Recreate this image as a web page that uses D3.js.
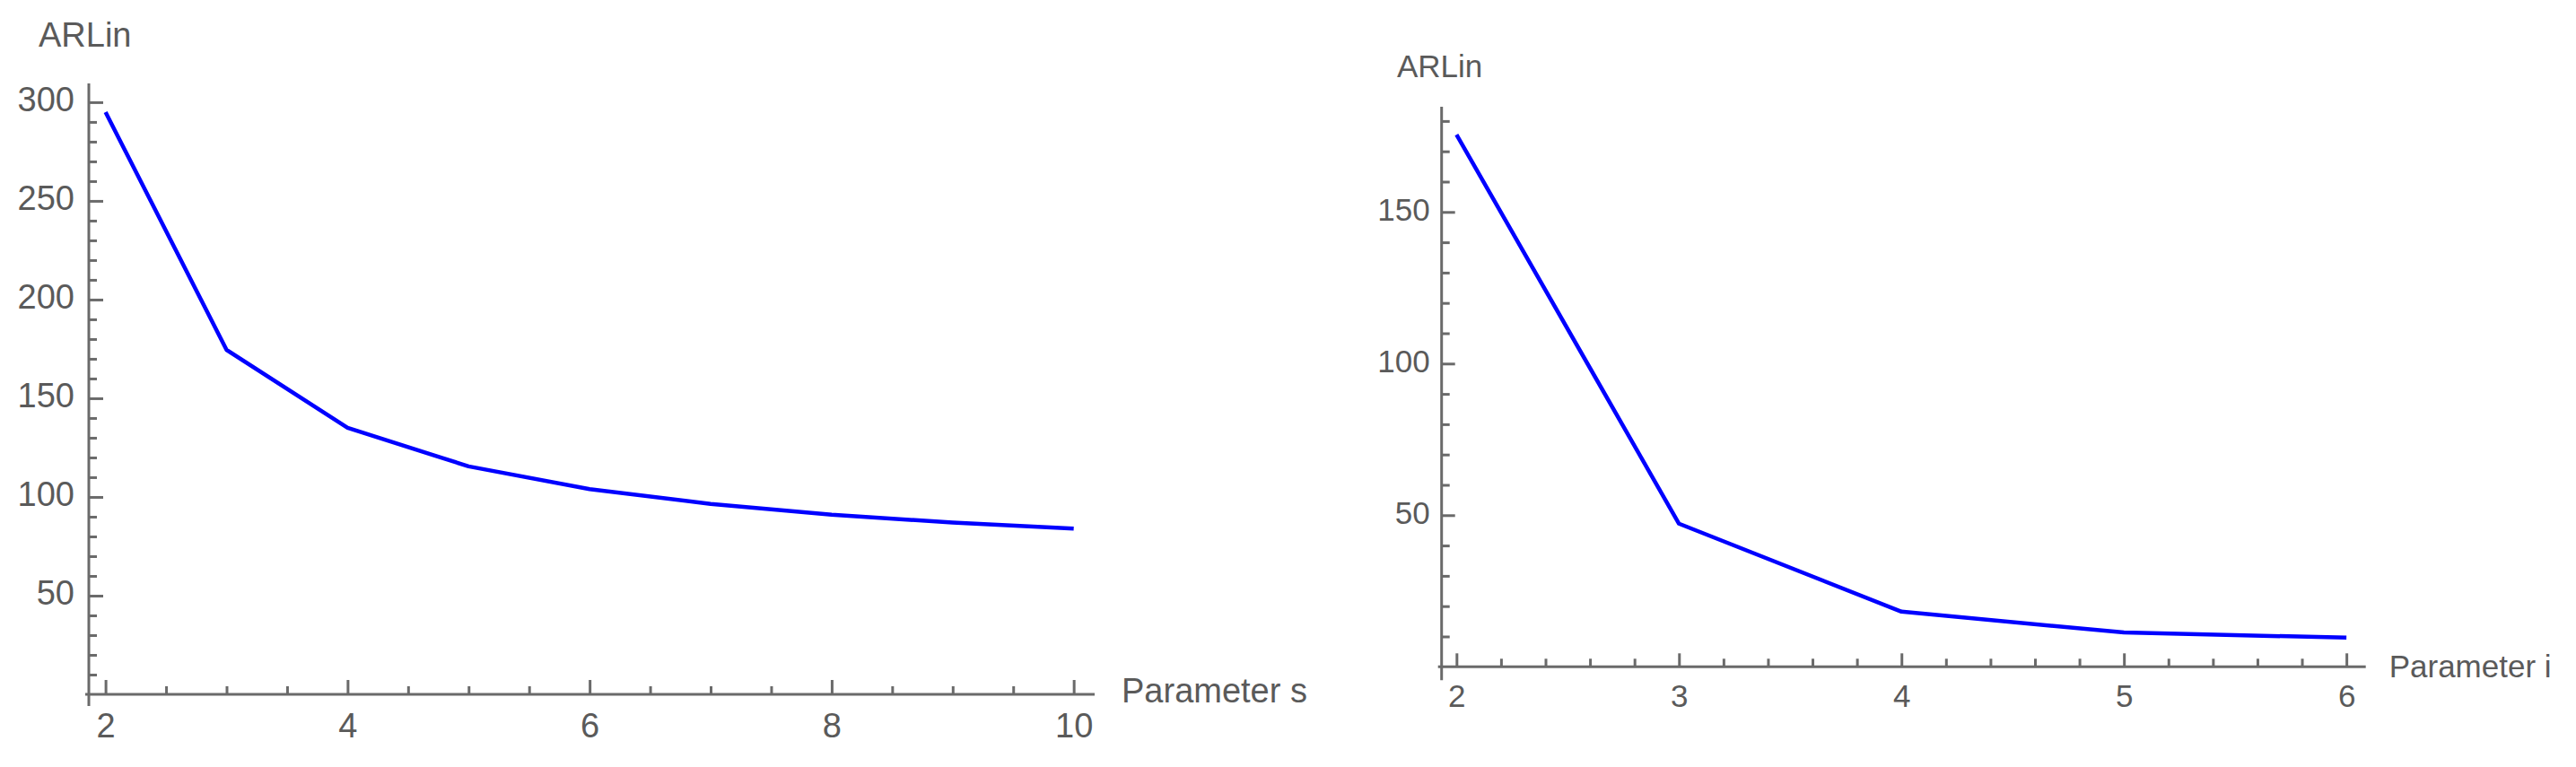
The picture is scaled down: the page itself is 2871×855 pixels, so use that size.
<!DOCTYPE html>
<html>
<head>
<meta charset="utf-8">
<script src="https://cdn.jsdelivr.net/npm/d3@7"></script>
<style>
  html, body { margin: 0; padding: 0; background: #ffffff; }
  svg { display: block; }
  text { font-family: "Liberation Sans", Arial, sans-serif; fill: #5a5a5a; }
</style>
</head>
<body>
<svg id="chart" width="2871" height="855"></svg>
<script>
// ---------- data ----------
const leftX = [2, 3, 4, 5, 6, 7, 8, 9, 10];
const leftY = [295, 174.5, 135, 115.5, 104, 96.5, 91, 87, 84];
const leftXTicks = [2, 4, 6, 8, 10];
const leftYTicks = [50, 100, 150, 200, 250, 300];
const leftXLabel = "Parameter s";
const leftYLabel = "ARLin";

const rightX = [2, 3, 4, 5, 6];
const rightY = [175.5, 47.2, 18.2, 11.3, 9.6];
const rightXTicks = [2, 3, 4, 5, 6];
const rightYTicks = [50, 100, 150];
const rightXLabel = "Parameter i";
const rightYLabel = "ARLin";

const svg = d3.select("#chart");
const AXIS = "#6a6a6a";
const TXT = "#5a5a5a";

function panel(cfg) {
  const g = svg.append("g");
  const x = d3.scaleLinear().domain(cfg.xDomain).range(cfg.xRange);
  const y = d3.scaleLinear().domain(cfg.yDomain).range(cfg.yRange);

  // minor x ticks
  g.append("g").attr("transform", `translate(0,${y(0)})`)
    .call(d3.axisBottom(x).tickValues(cfg.xMinor).tickSize(-cfg.minorLen).tickFormat(""))
    .call(s => { s.select(".domain").remove(); s.selectAll("line").attr("stroke", AXIS).attr("stroke-width", 3); });
  // major x ticks
  g.append("g").attr("transform", `translate(0,${y(0)})`)
    .call(d3.axisBottom(x).tickValues(cfg.xTicks).tickSize(-cfg.majorLen).tickPadding(cfg.xPad).tickFormat(d3.format("d")))
    .call(s => {
      s.select(".domain").remove();
      s.selectAll("line").attr("stroke", AXIS).attr("stroke-width", 3);
      s.selectAll("text").attr("font-size", cfg.fs).attr("font-family", null).attr("fill", TXT);
    });
  // minor y ticks
  g.append("g").attr("transform", `translate(${x.range()[0]},0)`)
    .call(d3.axisLeft(y).tickValues(cfg.yMinor).tickSize(-cfg.minorLen).tickFormat(""))
    .call(s => { s.select(".domain").remove(); s.selectAll("line").attr("stroke", AXIS).attr("stroke-width", 3); });
  // major y ticks
  g.append("g").attr("transform", `translate(${x.range()[0]},0)`)
    .call(d3.axisLeft(y).tickValues(cfg.yTicks).tickSize(-cfg.majorLen).tickPadding(cfg.yPad).tickFormat(d3.format("d")))
    .call(s => {
      s.select(".domain").remove();
      s.selectAll("line").attr("stroke", AXIS).attr("stroke-width", 3);
      s.selectAll("text").attr("font-size", cfg.fs).attr("font-family", null).attr("fill", TXT).attr("dy", "0.26em");
    });

  // axis lines (with slight overshoot at the origin like Mathematica)
  g.append("line")
    .attr("x1", x.range()[0] - 4).attr("x2", x.range()[1])
    .attr("y1", y(0)).attr("y2", y(0))
    .attr("stroke", AXIS).attr("stroke-width", 3);
  g.append("line")
    .attr("x1", x.range()[0]).attr("x2", x.range()[0])
    .attr("y1", y.range()[1]).attr("y2", y(0) + cfg.yOver)
    .attr("stroke", AXIS).attr("stroke-width", 3);

  // data line
  const line = d3.line().x(d => x(d[0])).y(d => y(d[1]));
  g.append("path")
    .datum(cfg.xs.map((v, i) => [v, cfg.ys[i]]))
    .attr("d", line)
    .attr("fill", "none")
    .attr("stroke", "#0000ff")
    .attr("stroke-width", 4.5)
    .attr("stroke-linejoin", "round");

  // axis labels
  g.append("text").text(cfg.yLabel)
    .attr("x", cfg.yLabelPos[0]).attr("y", cfg.yLabelPos[1])
    .attr("font-size", cfg.fs);
  g.append("text").text(cfg.xLabel)
    .attr("x", x.range()[1] + cfg.xLabelDx).attr("y", y(0) + cfg.xLabelDy)
    .attr("font-size", cfg.fs);
}

panel({
  xs: leftX, ys: leftY,
  xDomain: [1.862, 10.173], xRange: [99, 1220],
  yDomain: [0, 309.5], yRange: [774, 93],
  xTicks: leftXTicks, yTicks: leftYTicks,
  xMinor: d3.range(2, 10.01, 0.5).filter(v => !leftXTicks.includes(v)),
  yMinor: d3.range(10, 310, 10).filter(v => !leftYTicks.includes(v)),
  majorLen: 16, minorLen: 9, xPad: 21, yPad: 16, yOver: 13,
  fs: 38,
  yLabel: leftYLabel, yLabelPos: [43, 52],
  xLabel: leftXLabel, xLabelDx: 30, xLabelDy: 9
});

panel({
  xs: rightX, ys: rightY,
  xDomain: [1.933, 6.087], xRange: [1606.7, 2636.7],
  yDomain: [0, 184.7], yRange: [743.3, 119],
  xTicks: rightXTicks, yTicks: rightYTicks,
  xMinor: d3.range(2, 6.001, 0.2).map(v => +v.toFixed(1)).filter(v => !rightXTicks.includes(v)),
  yMinor: d3.range(10, 185, 10).filter(v => !rightYTicks.includes(v)),
  majorLen: 15, minorLen: 9, xPad: 20, yPad: 13, yOver: 15,
  fs: 35,
  yLabel: rightYLabel, yLabelPos: [1557, 86],
  xLabel: rightXLabel, xLabelDx: 26, xLabelDy: 12
});
</script>
</body>
</html>
